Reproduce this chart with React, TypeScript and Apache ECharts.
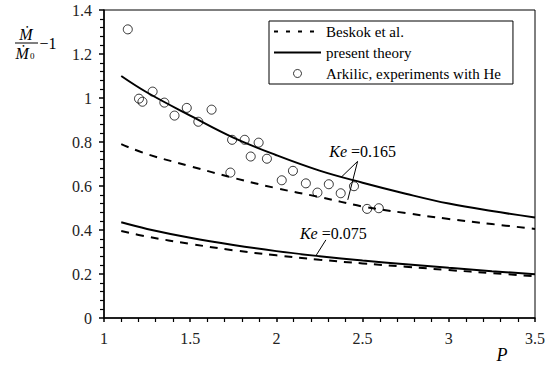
import React, { useEffect, useRef } from 'react';
import * as echarts from 'echarts';

// ---- data ----
const P_GRID = [1.1, 1.25, 1.5, 1.75, 2.0, 2.25, 2.5, 2.75, 3.0, 3.25, 3.5];
const presentHigh = [1.1, 1.025, 0.92, 0.82, 0.74, 0.67, 0.615, 0.565, 0.52, 0.486, 0.457];
const beskokHigh = [0.79, 0.745, 0.69, 0.637, 0.59, 0.55, 0.507, 0.477, 0.45, 0.427, 0.405];
const presentLow = [0.435, 0.405, 0.365, 0.332, 0.304, 0.281, 0.261, 0.244, 0.228, 0.213, 0.199];
const beskokLow = [0.395, 0.37, 0.337, 0.308, 0.285, 0.265, 0.248, 0.233, 0.218, 0.204, 0.19];

const arkilicP = [1.138, 1.203, 1.223, 1.282, 1.35, 1.409, 1.48, 1.547, 1.624, 1.733, 1.743, 1.816, 1.851, 1.897, 1.945, 2.031, 2.096, 2.171, 2.238, 2.304, 2.373, 2.45, 2.526, 2.594];
const arkilicV = [1.312, 0.997, 0.983, 1.029, 0.979, 0.92, 0.955, 0.892, 0.947, 0.661, 0.81, 0.81, 0.734, 0.797, 0.724, 0.626, 0.669, 0.612, 0.57, 0.608, 0.567, 0.599, 0.496, 0.499];

const SERIES_NAMES = ['Beskok et al.', 'present theory', 'Arkilic, experiments with He'];

// annotation anchors (data coordinates)
const ke165Text = [2.5, 0.755];
const ke165Apex = [2.471, 0.712];
const ke165Ends = [[2.376, 0.64], [2.414, 0.537]];
const ke075Text = [2.33, 0.386];
const ke075Apex = [2.287, 0.355];
const ke075End = [2.23, 0.284];

const FONT = 'Liberation Serif';

const zip = (xs: number[], ys: number[]) => xs.map((x, i) => [x, ys[i]]);

export default function App() {
  const ref = useRef<HTMLDivElement>(null);
  useEffect(() => {
    document.body.style.margin = '0';
    const chart = echarts.init(ref.current!, null, { renderer: 'svg' });
    const axisCommon = {
      type: 'value' as const,
      axisLine: { show: true, onZero: false, lineStyle: { color: '#000', width: 1.5 } },
      axisTick: { show: true, inside: false, length: 4, lineStyle: { color: '#000', width: 1.5 } },
      minorTick: { show: true, splitNumber: 5, length: 4, lineStyle: { color: '#000', width: 1.2 } },
      splitLine: { show: false },
      axisLabel: { fontFamily: FONT, fontSize: 16, color: '#222', margin: 12 },
    };
    const dashed = { color: '#000', width: 2, type: [8, 7] as number[] };
    const solid = { color: '#000', width: 2, type: 'solid' as const };
    const noSymbol = { color: 'rgba(0,0,0,0)', borderWidth: 0, opacity: 0 };
    chart.setOption({
      animation: false,
      textStyle: { fontFamily: FONT, color: '#000' },
      grid: { left: 104, right: 9, top: 10, bottom: 48, show: true, borderColor: '#000', borderWidth: 1 },
      xAxis: { ...axisCommon, min: 1, max: 3.5, interval: 0.5 },
      yAxis: {
        ...axisCommon,
        min: 0,
        max: 1.4,
        interval: 0.2,
        axisTick: { ...axisCommon.axisTick, length: 5 },
        minorTick: { ...axisCommon.minorTick, length: 4 },
      },
      legend: {
        show: true,
        left: 269,
        top: 21,
        orient: 'vertical',
        itemWidth: 47,
        itemHeight: 8,
        itemGap: 6,
        padding: [3, 12, 3, 4],
        borderColor: '#000',
        borderWidth: 1,
        borderRadius: 0,
        backgroundColor: '#fff',
        textStyle: { fontFamily: FONT, fontSize: 15, color: '#000' },
        data: [
          { name: SERIES_NAMES[0], lineStyle: { type: [4, 8], width: 2, color: '#000' }, itemStyle: noSymbol },
          { name: SERIES_NAMES[1], lineStyle: { width: 2, color: '#000' }, itemStyle: noSymbol },
          { name: SERIES_NAMES[2], itemStyle: { color: 'rgba(0,0,0,0)', borderColor: '#000', borderWidth: 1 } },
        ],
      },
      series: [
        { type: 'line', name: SERIES_NAMES[0], data: zip(P_GRID, beskokHigh), symbol: 'none', smooth: 0.4, lineStyle: dashed, itemStyle: { color: '#000' } },
        { type: 'line', name: SERIES_NAMES[0], data: zip(P_GRID, beskokLow), symbol: 'none', smooth: 0.4, lineStyle: dashed, itemStyle: { color: '#000' } },
        { type: 'line', name: SERIES_NAMES[1], data: zip(P_GRID, presentHigh), symbol: 'none', smooth: 0.4, lineStyle: solid, itemStyle: { color: '#000' } },
        { type: 'line', name: SERIES_NAMES[1], data: zip(P_GRID, presentLow), symbol: 'none', smooth: 0.4, lineStyle: solid, itemStyle: { color: '#000' } },
        {
          type: 'scatter',
          name: SERIES_NAMES[2],
          data: zip(arkilicP, arkilicV),
          symbol: 'circle',
          symbolSize: 9,
          itemStyle: { color: 'rgba(0,0,0,0)', borderColor: '#000', borderWidth: 1 },
        },
      ],
    });

    const px = (p: number[]) => chart.convertToPixel({ gridIndex: 0 }, p) as number[];
    const leader = (a: number[], b: number[]) => {
      const pa = px(a);
      const pb = px(b);
      return { type: 'line', shape: { x1: pa[0], y1: pa[1], x2: pb[0], y2: pb[1] }, style: { stroke: '#000', lineWidth: 1 }, z: 50 };
    };
    const keText = (pos: number[], label: string) => {
      const p = px(pos);
      return {
        type: 'text',
        x: p[0],
        y: p[1],
        z: 50,
        style: {
          text: `{i|Ke} {r|=${label}}`,
          fontFamily: FONT,
          fontSize: 16,
          fill: '#000',
          align: 'center',
          verticalAlign: 'middle',
          rich: {
            i: { fontStyle: 'italic', fontFamily: FONT, fontSize: 16, fill: '#000' },
            r: { fontFamily: FONT, fontSize: 16, fill: '#000' },
          },
        },
      };
    };

    chart.setOption({
      graphic: [
        keText(ke165Text, '0.165'),
        leader(ke165Apex, ke165Ends[0]),
        leader(ke165Apex, ke165Ends[1]),
        keText(ke075Text, '0.075'),
        leader(ke075Apex, ke075End),
        // y-axis name: (Ṁ / Ṁ0) − 1
        { type: 'text', x: 26, y: 34, style: { text: 'Ṁ', fontFamily: FONT, fontStyle: 'italic', fontSize: 16, fill: '#000', align: 'center', verticalAlign: 'middle' } },
        { type: 'line', shape: { x1: 15, y1: 43, x2: 38, y2: 43 }, style: { stroke: '#000', lineWidth: 1 } },
        {
          type: 'text',
          x: 25,
          y: 53,
          style: {
            text: '{m|Ṁ}{s|0}',
            fontFamily: FONT,
            align: 'center',
            verticalAlign: 'middle',
            rich: {
              m: { fontFamily: FONT, fontStyle: 'italic', fontSize: 16, fill: '#000' },
              s: { fontFamily: FONT, fontSize: 9, fill: '#000', padding: [6, 0, 0, 1] },
            },
          },
        },
        { type: 'text', x: 48, y: 43, style: { text: '−1', fontFamily: FONT, fontSize: 16, fill: '#000', align: 'center', verticalAlign: 'middle' } },
        // x-axis name
        { type: 'text', x: 502, y: 355, style: { text: 'P', fontFamily: FONT, fontStyle: 'italic', fontSize: 18, fill: '#000', align: 'center', verticalAlign: 'middle' } },
      ],
    });

    return () => chart.dispose();
  }, []);
  return <div ref={ref} style={{ width: 548, height: 366 }} />;
}
